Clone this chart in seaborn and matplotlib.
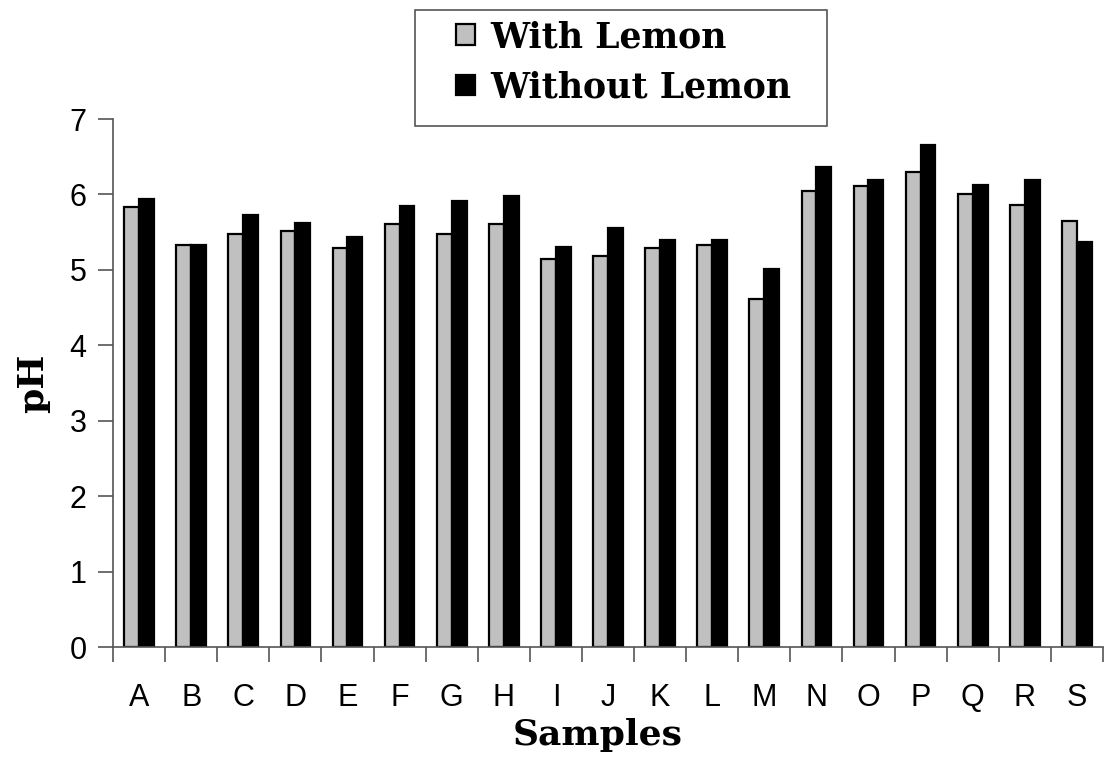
import pandas as pd
import seaborn as sns
import matplotlib.pyplot as plt
from matplotlib.patches import Rectangle
from matplotlib.ticker import FixedLocator, NullFormatter

samples = list("ABCDEFGHIJKLMNOPQRS")
with_lemon = [5.83, 5.33, 5.47, 5.51, 5.29, 5.61, 5.47, 5.61, 5.15, 5.19,
              5.29, 5.33, 4.61, 6.05, 6.11, 6.30, 6.00, 5.86, 5.65]
without_lemon = [5.94, 5.33, 5.73, 5.62, 5.44, 5.84, 5.91, 5.98, 5.30, 5.55,
                 5.40, 5.40, 5.01, 6.37, 6.19, 6.66, 6.12, 6.19, 5.37]
series = ["With Lemon", "Without Lemon"]
y_ticks = [0, 1, 2, 3, 4, 5, 6, 7]

df = pd.DataFrame({
    "Samples": samples * 2,
    "pH": with_lemon + without_lemon,
    "Series": [series[0]] * len(samples) + [series[1]] * len(samples),
})

sns.set_style("white")
plt.rcParams["text.color"] = "black"
plt.rcParams["axes.labelcolor"] = "black"
plt.rcParams["xtick.color"] = "black"
plt.rcParams["ytick.color"] = "black"
SERIF = ["DejaVu Serif"]
SANS = ["Liberation Sans", "DejaVu Sans"]

fig = plt.figure(figsize=(11.04, 7.57), dpi=100)
ax = fig.add_axes([0.1024, 0.1453, 0.8966, 0.6975])

sns.barplot(data=df, x="Samples", y="pH", hue="Series",
            palette=["#c0c0c0", "#000000"], width=0.57,
            edgecolor="black", linewidth=1.6, saturation=1,
            errorbar=None, ax=ax)

ax.set_xlim(-0.5, len(samples) - 0.5)
ax.set_ylim(0, 7)
ax.set_yticks(y_ticks)
ax.set_yticklabels([str(t) for t in y_ticks], family=SANS, fontsize=22)

# category labels centred, tick marks at the boundaries
ax.set_xticks(range(len(samples)))
ax.set_xticklabels(samples, family=SANS, fontsize=22)
ax.tick_params(axis="x", which="major", length=0, pad=26)
ax.xaxis.set_minor_locator(FixedLocator([i - 0.5 for i in range(len(samples) + 1)]))
ax.xaxis.set_minor_formatter(NullFormatter())
ax.tick_params(axis="x", which="minor", direction="out", length=11,
               width=1.2, color="#555555", bottom=True)
ax.tick_params(axis="y", direction="out", length=11, width=1.2,
               color="#555555", left=True, pad=8)

for side in ["top", "right"]:
    ax.spines[side].set_visible(False)
ax.spines["left"].set_color("#555555")
ax.spines["left"].set_linewidth(1.2)
ax.spines["bottom"].set_color("#555555")
ax.spines["bottom"].set_linewidth(1.2)

ax.set_xlabel("Samples", family=SERIF, fontweight="bold", fontsize=26, labelpad=0)
ax.xaxis.set_label_coords(0.49, -0.135)
ax.set_ylabel("pH", family=SERIF, fontweight="bold", fontsize=26, labelpad=14)

# legend without its own frame; the box is drawn separately
handles, labels = ax.get_legend_handles_labels()
leg = ax.legend(handles, labels, loc="upper left",
                bbox_to_anchor=(456 / 1104, 1 - 20 / 757),
                bbox_transform=fig.transFigure,
                frameon=False, borderpad=0, borderaxespad=0,
                labelspacing=0.47, handlelength=0.55, handleheight=0.55,
                handletextpad=0.45,
                prop={"family": SERIF, "weight": "bold", "size": 25})
fig.patches.append(Rectangle((415 / 1104, 1 - 126 / 757), 412 / 1104, 116 / 757,
                             transform=fig.transFigure, fill=False,
                             edgecolor="#555555", linewidth=1.2))

fig.savefig("out.png", dpi=100)
